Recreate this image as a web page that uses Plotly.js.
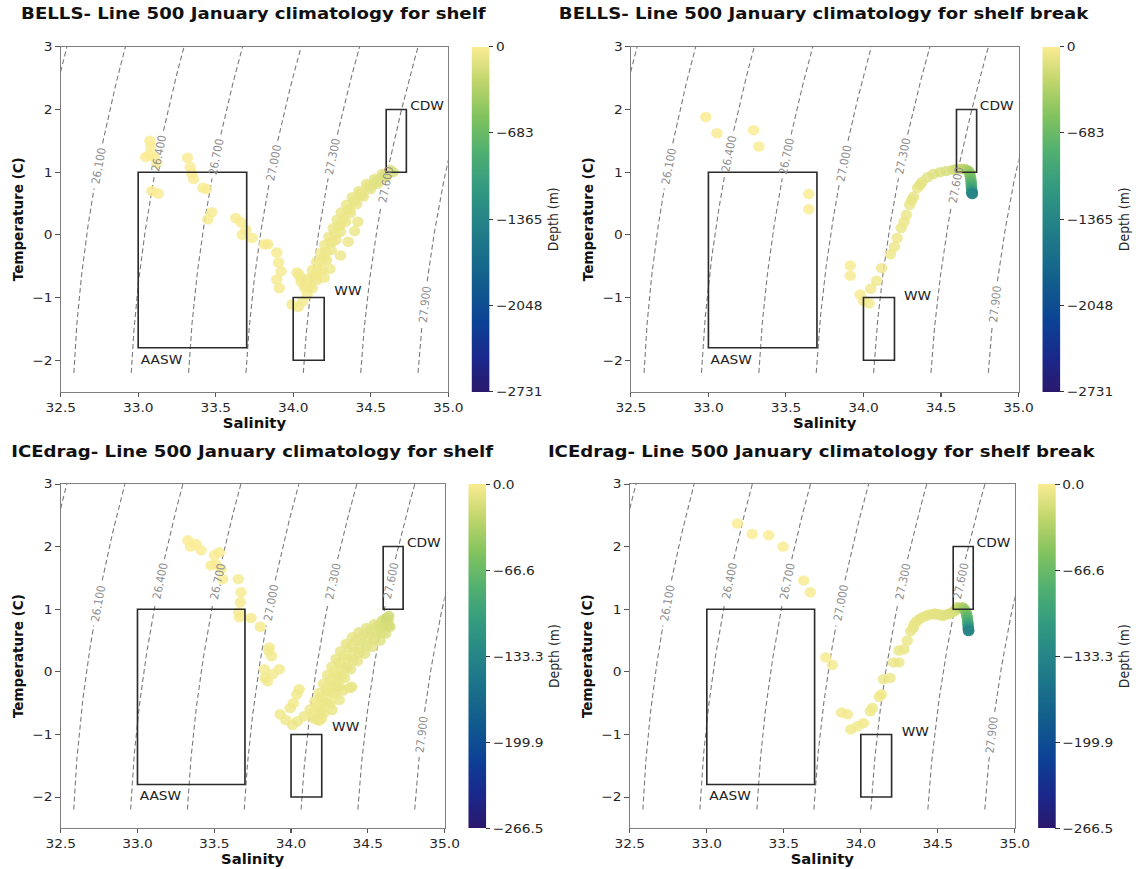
<!DOCTYPE html>
<html>
<head>
<meta charset="utf-8">
<script src="https://cdn.plot.ly/plotly-3.0.1.min.js"></script>
<style>
html,body{margin:0;padding:0;background:#fff;overflow:hidden;width:1136px;height:869px;}
#chart{width:1033px;height:869px;transform:scaleX(1.09971);transform-origin:0 0;}
</style>
</head>
<body>
<div id="chart"></div>
<script>
// ---------------- DATA ----------------
const panelTitles = [
  "BELLS- Line 500 January climatology for shelf",
  "BELLS- Line 500 January climatology for shelf break",
  "ICEdrag- Line 500 January climatology for shelf",
  "ICEdrag- Line 500 January climatology for shelf break"
];

// Panel 1: BELLS shelf
const sal1 = [
  33.076,33.081,33.048,33.071,33.104,33.118,33.088,33.129,
  33.318,33.336,33.346,33.357,33.417,33.440,33.475,33.449,
  33.629,33.664,33.694,33.671,33.735,33.813,33.836,33.894,33.906,33.922,33.894,33.910,
  33.993,34.032,34.062,34.025,34.048,34.074,34.090,34.037,34.052,
  34.080,34.101,34.123,34.151,34.176,34.202,34.230,34.258,34.284,34.310,34.344,34.381,34.424,34.473,34.525,34.574,34.624,
  34.123,34.155,34.187,34.215,34.245,34.277,34.305,34.338,34.370,34.409,34.452,34.499,34.546,34.596,34.645,
  34.144,34.198,34.252,34.301,34.359,34.434,34.520,34.606,
  34.417,34.396,34.355,34.305,34.237,34.200,
  34.100,34.128,34.155,34.183,34.210,34.240,34.268,34.296,34.324,34.358,34.395,34.440,34.490,34.540,34.590
];
const temp1 = [
  1.50,1.40,1.24,1.28,1.24,1.14,0.70,0.66,
  1.23,1.08,0.98,0.89,0.75,0.73,0.36,0.25,
  0.27,0.20,0.08,0.00,-0.05,-0.15,-0.15,-0.28,-0.44,-0.58,-0.71,-0.85,
  -1.11,-1.15,-1.06,-0.60,-0.69,-0.84,-0.95,-0.63,-0.75,
  -0.80,-0.69,-0.56,-0.43,-0.29,-0.16,-0.03,0.11,0.24,0.36,0.48,0.60,0.70,0.81,0.89,0.97,1.04,
  -0.85,-0.72,-0.56,-0.40,-0.24,-0.08,0.05,0.21,0.35,0.49,0.61,0.73,0.82,0.92,1.00,
  -0.64,-0.37,-0.11,0.15,0.40,0.64,0.81,0.96,
  0.21,0.06,-0.11,-0.33,-0.54,-0.68,
  -0.83,-0.70,-0.56,-0.42,-0.27,-0.12,0.01,0.14,0.27,0.41,0.54,0.66,0.77,0.86,0.95
];
const depth1 = [
  0,-1,-2,-1,-2,-3,-6,-7,
  -2,-4,-5,-6,-7,-8,-10,-12,
  -10,-12,-14,-15,-16,-18,-19,-22,-24,-26,-28,-30,
  -35,-40,-38,-32,-34,-36,-40,-32,-34,
  -42,-44,-46,-48,-50,-53,-56,-60,-64,-68,-72,-78,-85,-95,-105,-120,-145,
  -44,-46,-50,-54,-58,-62,-66,-70,-75,-82,-90,-100,-112,-130,-160,
  -46,-54,-62,-70,-78,-90,-108,-130,
  -70,-65,-60,-55,-50,-48,
  -43,-45,-48,-51,-54,-58,-61,-64,-68,-74,-82,-92,-104,-118,-140
];

// Panel 2: BELLS shelf break
const sal2 = [
  32.983,33.055,33.291,33.325,33.647,33.647,33.915,33.915,
  33.979,34.000,34.036,34.047,34.085,34.117,34.174,34.200,34.217,34.243,34.262,34.277,34.298,34.310,34.323,34.349,34.365,34.377,34.413,34.451,34.494,34.536,
  34.579,34.600,34.621,34.637,34.653,34.668,
  34.681,34.686,34.689,34.692,34.694,34.695,34.696,34.697,34.698,34.699,34.700,34.700,34.701,34.702
];
const temp2 = [
  1.88,1.62,1.67,1.41,0.65,0.41,-0.49,-0.65,
  -0.95,-1.05,-1.09,-0.86,-0.73,-0.53,-0.31,-0.19,-0.05,0.11,0.21,0.32,0.48,0.55,0.61,0.75,0.80,0.84,0.92,0.97,1.00,1.02,
  1.04,1.045,1.05,1.055,1.05,1.035,
  1.01,0.97,0.93,0.89,0.85,0.82,0.78,0.75,0.72,0.70,0.68,0.67,0.66,0.65
];
const depth2 = [
  0,-1,-1,-2,-3,-4,-15,-18,
  -25,-30,-35,-38,-42,-46,-50,-55,-60,-65,-70,-75,-80,-85,-90,-95,-100,-105,-115,-125,-140,-155,
  -170,-190,-210,-240,-280,-340,
  -420,-500,-580,-660,-740,-810,-880,-950,-1020,-1090,-1160,-1230,-1300,-1380
];

// Panel 3: ICEdrag shelf
const sal3 = [
  33.328,33.345,33.382,33.414,33.501,33.533,33.479,33.510,33.544,33.555,33.657,33.674,33.670,33.660,33.663,33.739,33.800,33.858,33.855,33.873,33.826,33.847,33.923,33.880,33.830,
  34.053,34.038,34.016,33.994,33.929,33.966,34.010,34.042,34.085,
  34.198,34.267,34.314,34.337,34.384,34.395,
  34.124,34.155,34.183,34.211,34.237,34.265,34.293,34.323,34.360,34.399,34.442,34.492,34.544,34.594,34.637,
  34.146,34.183,34.215,34.248,34.276,34.306,34.336,34.371,34.410,34.453,34.501,34.551,34.600,34.631,
  34.183,34.215,34.254,34.284,34.315,34.349,34.388,34.432,34.479,34.529,34.579,34.616,34.644,
  34.135,34.169,34.199,34.230,34.257,34.285,34.315,34.347,34.385,34.426,34.472,34.522,34.572,34.618,
  34.165,34.199,34.235,34.266,34.296,34.328,34.362,34.402,34.444,34.491,34.540,34.590,34.630
];
const temp3 = [
  2.10,2.00,2.04,1.94,1.86,1.91,1.70,1.72,1.64,1.48,1.48,1.27,1.11,0.95,0.87,0.86,0.72,0.39,0.33,0.25,0.04,-0.15,0.04,-0.04,-0.10,
  -0.28,-0.36,-0.50,-0.58,-0.68,-0.77,-0.85,-0.79,-0.71,
  -0.75,-0.61,-0.45,-0.30,-0.26,-0.24,
  -0.60,-0.47,-0.34,-0.19,-0.05,0.08,0.21,0.33,0.45,0.55,0.63,0.70,0.76,0.82,0.89,
  -0.74,-0.60,-0.47,-0.32,-0.19,-0.05,0.08,0.21,0.33,0.44,0.54,0.63,0.72,0.81,
  -0.78,-0.66,-0.51,-0.36,-0.23,-0.10,0.04,0.17,0.29,0.40,0.50,0.61,0.72,
  -0.67,-0.54,-0.40,-0.26,-0.12,0.01,0.15,0.27,0.39,0.50,0.59,0.67,0.74,0.85,
  -0.76,-0.63,-0.49,-0.34,-0.21,-0.07,0.06,0.19,0.31,0.42,0.52,0.62,0.74
];
const depth3 = [
  0,0,0,0,0,-1,-1,-1,-1,-1,-1,-1,-2,-2,-2,-2,-2,-3,-3,-3,-3,-3,-3,-3,-4,
  -4,-4,-4,-5,-5,-5,-5,-6,-6,
  -6,-7,-7,-8,-8,-8,
  -5,-5,-6,-6,-7,-7,-8,-8,-9,-9,-10,-11,-12,-15,-22,
  -5,-5,-6,-6,-7,-7,-8,-8,-9,-10,-11,-12,-14,-18,
  -6,-6,-7,-7,-8,-8,-9,-9,-10,-11,-12,-14,-17,
  -5,-5,-6,-6,-7,-7,-8,-8,-9,-10,-11,-12,-14,-19,
  -6,-6,-7,-7,-8,-8,-9,-9,-10,-11,-12,-14,-17
];

// Panel 4: ICEdrag shelf break
const sal4 = [
  33.199,33.294,33.402,33.495,33.629,33.672,33.773,33.816,
  33.875,33.914,33.935,33.978,34.017,34.062,34.075,34.120,34.134,34.147,34.190,34.212,34.248,34.248,34.281,34.302,34.324,34.346,34.378,34.421,
  34.340,34.360,34.400,34.440,34.464,34.480,34.497,34.510,34.529,34.545,34.562,34.580,
  34.594,34.610,34.626,34.640,34.659,34.670,
  34.680,34.685,34.689,34.691,34.693,34.695,34.696,34.697,34.698,34.699,34.700,34.700
];
const temp4 = [
  2.37,2.20,2.18,2.00,1.46,1.27,0.23,0.11,
  -0.65,-0.68,-0.92,-0.87,-0.82,-0.63,-0.58,-0.40,-0.36,-0.12,-0.10,0.15,0.15,0.34,0.36,0.50,0.65,0.76,0.84,0.89,
  0.70,0.80,0.87,0.91,0.92,0.93,0.91,0.92,0.89,0.905,0.92,0.93,
  0.95,0.97,1.03,1.02,1.03,1.01,
  0.97,0.94,0.90,0.87,0.83,0.79,0.76,0.73,0.70,0.68,0.66,0.65
];
const depth4 = [
  0,0,0,-1,-1,-1,-2,-2,
  -3,-3,-4,-4,-4,-5,-5,-5,-5,-6,-6,-6,-6,-7,-7,-7,-8,-8,-9,-9,
  -8,-8,-9,-9,-10,-10,-10,-11,-11,-11,-12,-12,
  -14,-16,-20,-25,-32,-40,
  -48,-56,-64,-72,-80,-88,-96,-104,-112,-120,-127,-134
];

// Colour bar limits and tick labels
const depthMin = [-2731, -2731, -266.5, -266.5];
const cbTickVals12 = [0, -682.75, -1365.5, -2048.25, -2731];
const cbTickText12 = ["0", "\u2212683", "\u22121365", "\u22122048", "\u22122731"];
const cbTickVals34 = [0, -66.625, -133.25, -199.875, -266.5];
const cbTickText34 = ["0.0", "\u221266.6", "\u2212133.3", "\u2212199.9", "\u2212266.5"];

// Water-mass boxes
const boxNames = ["AASW", "WW", "CDW"];
const boxSalMin = [33.0, 34.0, 34.6];
const boxSalMax = [33.7, 34.2, 34.73];
const boxTempMin = [-1.8, -2.0, 1.0];
const boxTempMax = [1.0, -1.0, 2.0];
const boxLabelSal = [33.0, 34.25, 34.74];
const boxLabelTempShelf = [-1.98, -0.88, 2.07];
const boxLabelTempBreak = [-1.98, -0.96, 2.07];

// Isopycnal levels (sigma0) and where their labels sit (temperature), per row of panels
const isoLevels = [25.8, 26.1, 26.4, 26.7, 27.0, 27.3, 27.6, 27.9];
const isoLabelTempTop = [null, 1.1, 1.3, 1.25, 1.15, 1.25, 0.8, -1.1];
const isoLabelTempBottom = [null, 1.1, 1.45, 1.45, 1.1, 1.45, 1.45, -1.0];

// Haline-like colour map (colour scale definition)
const cmap = [
  [0.0, "rgb(42,24,108)"], [0.1, "rgb(26,40,140)"], [0.2, "rgb(12,65,150)"],
  [0.3, "rgb(16,89,141)"], [0.4, "rgb(26,111,138)"], [0.5, "rgb(37,133,135)"],
  [0.6, "rgb(52,155,127)"], [0.7, "rgb(82,176,112)"], [0.8, "rgb(130,195,94)"],
  [0.9, "rgb(192,213,108)"], [1.0, "rgb(250,236,145)"]
];

// ---------------- EOS (UNESCO 1980 at p=0, salinity passed as absolute salinity) ----------------
function sigma0(SA, T) {
  const S = SA * 35 / 35.16504;
  const rw = 999.842594 + 6.793952e-2*T - 9.095290e-3*T*T + 1.001685e-4*T*T*T
           - 1.120083e-6*T*T*T*T + 6.536332e-9*T*T*T*T*T;
  const A = 8.24493e-1 - 4.0899e-3*T + 7.6438e-5*T*T - 8.2467e-7*T*T*T + 5.3875e-9*T*T*T*T;
  const B = -5.72466e-3 + 1.0227e-4*T - 1.6546e-6*T*T;
  const C = 4.8314e-4;
  return rw + A*S + B*Math.pow(S,1.5) + C*S*S - 1000;
}
function solveS(level, T) {
  let lo = 28, hi = 38;
  for (let i = 0; i < 50; i++) {
    const mid = (lo + hi) / 2;
    if (sigma0(mid, T) < level) lo = mid; else hi = mid;
  }
  return (lo + hi) / 2;
}
const isoT = [];
for (let j = 0; j <= 260; j++) isoT.push(-2.2 + j * 0.02);

// ---------------- LAYOUT GEOMETRY (reference px) ----------------
const W = 1136, H = 869, SX = 1136 / 1033;
const plots = [
  {x0: 60.7,  x1: 448.2,  y0: 46.7, y1: 391.7, cb: 472.0},
  {x0: 630.9, x1: 1018.5, y0: 46.7, y1: 391.7, cb: 1042.4},
  {x0: 60.7,  x1: 444.6,  y0: 484.0, y1: 828.3, cb: 468.0},
  {x0: 629.8, x1: 1014.8, y0: 484.0, y1: 828.3, cb: 1038.3}
];
const titleY = [13.5, 13.5, 451, 451];

const salData = [sal1, sal2, sal3, sal4];
const tempData = [temp1, temp2, temp3, temp4];
const depthData = [depth1, depth2, depth3, depth4];

const font = "DejaVu Sans, Liberation Sans, sans-serif";
const traces = [];
const shapes = [];
const annotations = [];
const layout = {
  width: 1033, height: H,
  margin: {l:0, r:0, t:0, b:0},
  paper_bgcolor: "#ffffff", plot_bgcolor: "#ffffff",
  font: {family: font, size: 12, color: "#262626"},
  showlegend: false
};

plots.forEach((p, k) => {
  const n = k + 1;
  const xa = n === 1 ? "x" : "x" + n;
  const ya = n === 1 ? "y" : "y" + n;
  const xKey = n === 1 ? "xaxis" : "xaxis" + n;
  const yKey = n === 1 ? "yaxis" : "yaxis" + n;
  const shelf = (k % 2 === 0);
  const pxS = (p.x1 - p.x0) / SX / 2.5;   // internal px per salinity unit
  const pxT = (p.y1 - p.y0) / 5.5;        // px per degree

  layout[xKey] = {
    domain: [p.x0 / W, p.x1 / W], anchor: ya,
    range: [32.5, 35.0], tickvals: [32.5, 33.0, 33.5, 34.0, 34.5, 35.0], tickformat: ".1f",
    showgrid: false, zeroline: false, showline: true, mirror: true,
    linecolor: "#7f7f7f", linewidth: 1,
    ticks: "outside", ticklen: 4, tickwidth: 1, tickcolor: "#555",
    tickfont: {size: 12.5, color: "#262626"},
    title: {text: "<b>Salinity</b>", font: {size: 13.5, color: "#111"}, standoff: 3}
  };
  layout[yKey] = {
    domain: [1 - p.y1 / H, 1 - p.y0 / H], anchor: xa,
    range: [-2.5, 3.0], tickvals: [-2, -1, 0, 1, 2, 3],
    showgrid: false, zeroline: false, showline: true, mirror: true,
    linecolor: "#7f7f7f", linewidth: 1,
    ticks: "outside", ticklen: 4, tickwidth: 1, tickcolor: "#555",
    tickfont: {size: 12.5, color: "#262626"},
    title: {text: "<b>Temperature (C)</b>", font: {size: 13.5, color: "#111"}, standoff: 4}
  };

  // isopycnals, computed from the equation of state
  const labT = k < 2 ? isoLabelTempTop : isoLabelTempBottom;
  isoLevels.forEach((L, i) => {
    const tl = labT[i];
    let sl = null;
    if (tl !== null) sl = solveS(L, tl);
    const xs = [], ys = [];
    isoT.forEach(t => {
      const s = solveS(L, t);
      if (tl !== null && Math.hypot((s - sl) * pxS, (t - tl) * pxT) < 22) {
        if (xs.length && xs[xs.length - 1] !== null) { xs.push(null); ys.push(null); }
        return;
      }
      xs.push(s); ys.push(t);
    });
    traces.push({
      type: "scatter", mode: "lines", x: xs, y: ys, xaxis: xa, yaxis: ya,
      line: {color: "#7a7a7a", width: 1, dash: "5px,3px"},
      connectgaps: false, hoverinfo: "skip"
    });
    if (tl !== null) {
      const h = 1e-3;
      const dSig_dS = (sigma0(sl + h, tl) - sigma0(sl - h, tl)) / (2 * h);
      const dSig_dT = (sigma0(sl, tl + h) - sigma0(sl, tl - h)) / (2 * h);
      const dSdT = -dSig_dT / dSig_dS;
      const ang = Math.atan2(pxT, dSdT * pxS) * 180 / Math.PI;
      annotations.push({
        xref: xa, yref: ya, x: sl, y: tl, text: L.toFixed(3), showarrow: false,
        textangle: -ang, xanchor: "center", yanchor: "middle",
        font: {family: font, size: 10.5, color: "#8f8f8f"}
      });
    }
  });

  // T-S scatter coloured by depth
  const ticksV = k < 2 ? cbTickVals12 : cbTickVals34;
  const ticksT = k < 2 ? cbTickText12 : cbTickText34;
  traces.push({
    type: "scatter", mode: "markers", x: salData[k], y: tempData[k], xaxis: xa, yaxis: ya,
    marker: {
      size: 10.5, opacity: 0.82, line: {width: 0},
      color: depthData[k], colorscale: cmap, cmin: depthMin[k], cmax: 0,
      showscale: true,
      colorbar: {
        x: p.cb / W, xanchor: "left", xpad: 0, xref: "paper",
        y: 1 - (p.y0 + p.y1) / 2 / H, yanchor: "middle", ypad: 0, yref: "paper",
        len: p.y1 - p.y0, lenmode: "pixels",
        thickness: 16.4, thicknessmode: "pixels",
        outlinewidth: 0,
        ticks: "outside", ticklen: 4, tickwidth: 1, tickcolor: "#333",
        tickvals: ticksV, ticktext: ticksT,
        tickfont: {family: font, size: 12.5, color: "#262626"},
        title: {text: "Depth (m)", side: "right", font: {family: font, size: 12.5, color: "#262626"}}
      }
    },
    hoverinfo: "x+y"
  });

  // water-mass boxes and labels
  boxNames.forEach((nm, b) => {
    shapes.push({
      type: "rect", xref: xa, yref: ya,
      x0: boxSalMin[b], x1: boxSalMax[b], y0: boxTempMin[b], y1: boxTempMax[b],
      line: {color: "#2b2b2b", width: 1.5}, fillcolor: "rgba(0,0,0,0)", layer: "above"
    });
    annotations.push({
      xref: xa, yref: ya, x: boxLabelSal[b],
      y: shelf ? boxLabelTempShelf[b] : boxLabelTempBreak[b],
      text: nm, showarrow: false, xanchor: "left", yanchor: "middle",
      font: {family: font, size: 12.5, color: "#222"}
    });
  });

  // subplot title
  annotations.push({
    xref: "paper", yref: "paper", x: (p.x0 + p.x1) / 2 / W, y: 1 - titleY[k] / H,
    text: "<b>" + panelTitles[k] + "</b>", showarrow: false,
    xanchor: "center", yanchor: "middle",
    font: {family: font, size: 16.5, color: "#111"}
  });
});

layout.shapes = shapes;
layout.annotations = annotations;

Plotly.newPlot("chart", traces, layout, {displayModeBar: false, staticPlot: true});
</script>
</body>
</html>
